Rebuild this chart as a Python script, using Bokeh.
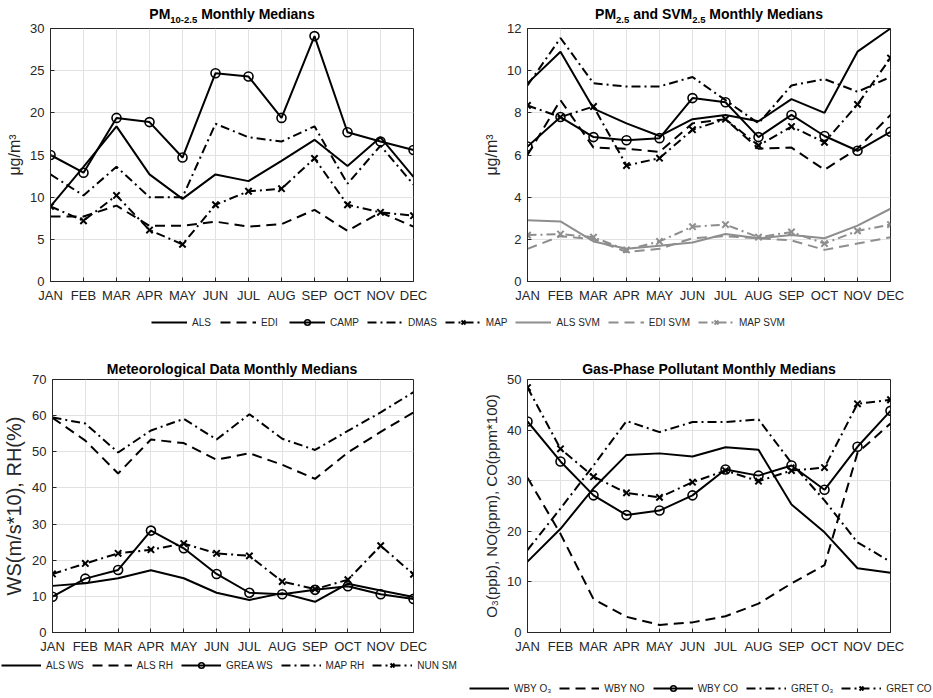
from bokeh.plotting import figure
from bokeh.models import Range1d, FixedTicker, Legend, LegendItem, ColumnDataSource, Label, GridBox
from bokeh.embed import file_html
from bokeh.resources import INLINE

MONTHS = ["JAN", "FEB", "MAR", "APR", "MAY", "JUN", "JUL", "AUG", "SEP", "OCT", "NOV", "DEC"]
MONTH_IDX = list(range(1, 13))

# PM10-2.5 monthly medians (ug/m3)
coarse_als = [8.9, 13.6, 18.4, 12.7, 9.8, 12.7, 11.9, 14.3, 16.8, 13.7, 17.1, 12.4]
coarse_edi = [7.7, 7.7, 9.0, 6.6, 6.6, 7.1, 6.5, 6.8, 8.5, 6.0, 8.2, 6.5]
coarse_camp = [15.0, 12.9, 19.4, 18.9, 14.7, 24.7, 24.3, 19.4, 29.1, 17.7, 16.6, 15.6]
coarse_dmas = [12.7, 10.2, 13.6, 10.0, 10.0, 18.7, 17.1, 16.6, 18.4, 11.6, 16.1, 11.5]
coarse_map = [8.9, 7.2, 10.2, 6.1, 4.4, 9.1, 10.7, 11.0, 14.6, 9.1, 8.2, 7.8]

# PM2.5 and SVM2.5 monthly medians (ug/m3)
fine_als = [9.4, 10.9, 8.2, 7.5, 6.9, 7.7, 7.9, 7.6, 8.65, 8.0, 10.9, 12.0]
fine_edi = [6.0, 8.6, 6.35, 6.3, 6.15, 7.5, 7.7, 6.3, 6.35, 5.3, 6.3, 7.9]
fine_camp = [6.4, 7.8, 6.85, 6.7, 6.8, 8.7, 8.5, 6.85, 7.9, 6.9, 6.2, 7.1]
fine_dmas = [9.3, 11.55, 9.4, 9.25, 9.25, 9.7, 8.6, 7.5, 9.3, 9.6, 9.0, 9.7]
fine_map = [8.35, 7.8, 8.3, 5.5, 5.85, 7.2, 7.7, 6.45, 7.35, 6.6, 8.4, 10.6]
svm_als = [2.9, 2.85, 1.9, 1.55, 1.7, 1.85, 2.25, 2.05, 2.2, 2.05, 2.65, 3.45]
svm_edi = [1.55, 2.15, 2.0, 1.4, 1.55, 2.05, 2.15, 2.05, 1.95, 1.5, 1.8, 2.1]
svm_map = [2.2, 2.25, 2.1, 1.5, 1.9, 2.6, 2.7, 2.1, 2.35, 1.8, 2.4, 2.7]

# Meteorological monthly medians
ws_als = [12.9, 13.6, 15.0, 17.2, 15.0, 11.0, 9.0, 10.9, 8.5, 13.5, 11.6, 9.8]
rh_als = [59.4, 53.1, 44.0, 53.4, 52.4, 47.8, 49.6, 46.4, 42.5, 49.8, 55.5, 60.9]
ws_grea = [9.9, 14.9, 17.3, 28.2, 23.3, 16.2, 11.0, 10.6, 11.8, 12.8, 10.6, 9.3]
rh_map = [59.5, 57.8, 49.8, 55.9, 59.1, 53.4, 60.4, 53.6, 50.5, 55.8, 60.9, 66.5]
sm_nun = [16.2, 19.1, 21.9, 22.9, 24.6, 21.9, 21.2, 14.1, 12.0, 14.6, 24.0, 16.1]

# Gas-phase pollutant monthly medians
o3_wby = [14.0, 20.5, 28.5, 35.1, 35.4, 34.8, 36.6, 36.1, 25.3, 19.8, 12.7, 11.8]
no_wby = [30.6, 19.5, 6.6, 3.1, 1.5, 2.0, 3.2, 5.7, 9.7, 13.3, 35.5, 41.3]
co_wby = [41.7, 33.8, 27.1, 23.2, 24.1, 27.1, 32.2, 31.0, 33.0, 28.2, 36.7, 43.8]
o3_gret = [16.3, 24.5, 33.0, 41.8, 39.6, 41.6, 41.6, 42.1, 33.5, 26.1, 17.8, 14.0]
co_gret = [48.4, 36.3, 30.8, 27.6, 26.7, 29.7, 32.0, 29.9, 32.0, 32.6, 45.2, 46.0]

FONT = "Liberation Sans"
AXIS_GREY = "#262626"
GRID_GREY = "#e2e2e2"
BLACK = "#000000"
SVM_GREY = "#8e8e8e"
SOLID, DASH, DASHDOT = "solid", "10 6", "9 4 2 4"
NAN = float("nan")

# advance widths (1/1000 em) of the bold sans face, used to lay out title pieces
BOLD_ADV = {"P": 667, "M": 833, "S": 667, "V": 667, "G": 778, "D": 722,
            "0": 556, "1": 556, "2": 556, "5": 556, "-": 333, ".": 278, " ": 278,
            "o": 611, "n": 611, "t": 333, "h": 611, "l": 278, "y": 556, "e": 556,
            "d": 611, "i": 278, "a": 556, "s": 556, "g": 611, "r": 389, "c": 556,
            "u": 611, "p": 611}


def text_width(s, size):
    return sum(BOLD_ADV.get(c, 600) for c in s) / 1000.0 * size


def make_panel(width, height, left, right, top, bottom, y_end, y_step, ylabel, ylabel_size):
    p = figure(width=width, height=height, x_range=Range1d(1, 12), y_range=Range1d(0, y_end),
               output_backend="svg", toolbar_location=None, title=None, frame_align=False,
               min_border_left=left, min_border_right=right,
               min_border_top=top, min_border_bottom=bottom)
    p.xaxis.ticker = FixedTicker(ticks=MONTH_IDX)
    p.xaxis.major_label_overrides = {m: name for m, name in zip(MONTH_IDX, MONTHS)}
    p.yaxis.ticker = FixedTicker(ticks=[v * y_step for v in range(int(y_end / y_step) + 1)])
    for ax in (p.xaxis[0], p.yaxis[0]):
        ax.major_label_text_font = FONT
        ax.major_label_text_font_size = "13px"
        ax.major_label_text_color = AXIS_GREY
        ax.axis_line_color = AXIS_GREY
        ax.major_tick_line_color = AXIS_GREY
        ax.major_tick_in = 4
        ax.major_tick_out = 0
        ax.minor_tick_line_color = None
        ax.major_label_standoff = 6
    p.yaxis.axis_label = ylabel
    p.yaxis.axis_label_text_font = FONT
    p.yaxis.axis_label_text_font_size = ylabel_size
    p.yaxis.axis_label_text_font_style = "normal"
    p.yaxis.axis_label_text_color = AXIS_GREY
    p.yaxis.axis_label_standoff = 4
    p.xgrid.grid_line_color = GRID_GREY
    p.ygrid.grid_line_color = GRID_GREY
    p.outline_line_color = AXIS_GREY
    p.outline_line_width = 1
    return p


def strip(width, height, transparent=False):
    s = figure(width=width, height=height, x_range=Range1d(0, width), y_range=Range1d(0, height),
               output_backend="svg", toolbar_location=None, title=None, frame_align=False,
               x_axis_location=None, y_axis_location=None, min_border=0,
               outline_line_color=None)
    s.grid.visible = False
    if transparent:
        s.background_fill_color = None
        s.border_fill_color = None
    return s


def add_title(s, pieces, center_x, baseline_y):
    """Lay out bold title pieces side by side; subscript pieces are smaller and lowered."""
    main, sub = 14, 9.5
    sizes = [sub if is_sub else main for _, is_sub in pieces]
    widths = [text_width(t, f) for (t, _), f in zip(pieces, sizes)]
    x = center_x - sum(widths) / 2.0
    for (t, is_sub), f, w in zip(pieces, sizes, widths):
        body = t.lstrip(" ")
        lead = text_width(t[:len(t) - len(body)], f)
        s.add_layout(Label(x=x + lead, y=baseline_y - (5.5 if is_sub else 0), text=body,
                           text_font=FONT, text_font_style="bold",
                           text_font_size=f"{f}px",
                           text_color="black", text_align="left",
                           text_baseline="alphabetic"))
        x += w


def draw_series(p, y, color, dash, marker=None):
    if y is None:
        # placeholder series that only feeds a legend entry
        src = ColumnDataSource(dict(x=[NAN], y=[NAN]))
    else:
        src = ColumnDataSource(dict(x=MONTH_IDX, y=y))
    rs = [p.line("x", "y", source=src, line_color=color, line_width=2, line_dash=dash)]
    if marker == "circle":
        rs.append(p.scatter("x", "y", source=src, marker="circle", size=9,
                            line_color=color, fill_color=None, line_width=1.6))
    elif marker == "x":
        rs.append(p.scatter("x", "y", source=src, marker="x", size=9,
                            line_color=color, line_width=2))
    return rs


def legend(items, glyph_w, loc):
    return Legend(items=items, orientation="horizontal", location=loc,
                  label_text_font=FONT, label_text_font_size="10px",
                  label_text_color=AXIS_GREY, glyph_width=glyph_w, glyph_height=14,
                  label_height=14, label_standoff=5, spacing=8, padding=0, margin=0,
                  border_line_color=None, background_fill_alpha=0)


# --- PM10-2.5 panel ---
p1 = make_panel(466, 308, 50, 53, 28, 27, 30, 5, "\u03bcg/m\u00b3", "16px")
draw_series(p1, coarse_als, BLACK, SOLID)
draw_series(p1, coarse_edi, BLACK, DASH)
draw_series(p1, coarse_camp, BLACK, SOLID, "circle")
draw_series(p1, coarse_dmas, BLACK, DASHDOT)
draw_series(p1, coarse_map, BLACK, DASHDOT, "x")
t1 = strip(466, 28, transparent=True)
add_title(t1, [("PM", False), ("10-2.5", True), (" Monthly Medians", False)], 231.5, 14.5)

# --- PM2.5 and SVM2.5 panel ---
p2 = make_panel(467, 308, 61, 43, 28, 27, 12, 2, "\u03bcg/m\u00b3", "16px")
draw_series(p2, fine_als, BLACK, SOLID)
draw_series(p2, fine_edi, BLACK, DASH)
draw_series(p2, fine_camp, BLACK, SOLID, "circle")
draw_series(p2, fine_dmas, BLACK, DASHDOT)
draw_series(p2, fine_map, BLACK, DASHDOT, "x")
draw_series(p2, svm_als, SVM_GREY, SOLID)
draw_series(p2, svm_edi, SVM_GREY, DASH)
draw_series(p2, svm_map, SVM_GREY, DASHDOT, "x")
t2 = strip(467, 28, transparent=True)
add_title(t2, [("PM", False), ("2.5", True), (" and SVM", False), ("2.5", True),
               (" Monthly Medians", False)], 242.5, 14.5)

# --- shared legend strip for the particulate panels ---
pl = strip(933, 30)
pm_items = [
    LegendItem(label="ALS", renderers=draw_series(pl, None, BLACK, SOLID)),
    LegendItem(label="EDI", renderers=draw_series(pl, None, BLACK, DASH)),
    LegendItem(label="CAMP", renderers=draw_series(pl, None, BLACK, SOLID, "circle")),
    LegendItem(label="DMAS", renderers=draw_series(pl, None, BLACK, DASHDOT)),
    LegendItem(label="MAP", renderers=draw_series(pl, None, BLACK, DASHDOT, "x")),
    LegendItem(label="ALS SVM", renderers=draw_series(pl, None, SVM_GREY, SOLID)),
    LegendItem(label="EDI SVM", renderers=draw_series(pl, None, SVM_GREY, DASH)),
    LegendItem(label="MAP SVM", renderers=draw_series(pl, None, SVM_GREY, DASHDOT, "x")),
]
pl.add_layout(legend(pm_items, 36, (151, 9)))

# --- Meteorological panel ---
p3 = make_panel(466, 318, 50, 53, 41, 24, 70, 10, "WS(m/s*10), RH(%)", "20px")
met_series = [
    ("ALS WS", ws_als, SOLID, None),
    ("ALS RH", rh_als, DASH, None),
    ("GREA WS", ws_grea, SOLID, "circle"),
    ("MAP RH", rh_map, DASHDOT, None),
    ("NUN SM", sm_nun, DASHDOT, "x"),
]
l3 = strip(466, 42)
met_items = []
for name, vals, dash, mk in met_series:
    draw_series(p3, vals, BLACK, dash, mk)
    met_items.append(LegendItem(label=name, renderers=draw_series(l3, None, BLACK, dash, mk)))
l3.add_layout(legend(met_items, 40, (1, 26)))
t3 = strip(466, 41, transparent=True)
add_title(t3, [("Meteorological Data Monthly Medians", False)], 231.5, 11)

# --- Gas-phase panel ---
p4 = make_panel(467, 318, 61, 43, 41, 24, 50, 10, "O\u2083(ppb), NO(ppm), CO(ppm*100)", "15px")
gas_series = [
    ("WBY O\u2083", o3_wby, SOLID, None),
    ("WBY NO", no_wby, DASH, None),
    ("WBY CO", co_wby, SOLID, "circle"),
    ("GRET O\u2083", o3_gret, DASHDOT, None),
    ("GRET CO", co_gret, DASHDOT, "x"),
]
l4 = strip(467, 42)
gas_items = []
for name, vals, dash, mk in gas_series:
    draw_series(p4, vals, BLACK, dash, mk)
    gas_items.append(LegendItem(label=name, renderers=draw_series(l4, None, BLACK, dash, mk)))
l4.add_layout(legend(gas_items, 40, (3, 3)))
t4 = strip(467, 41, transparent=True)
add_title(t4, [("Gas-Phase Pollutant Monthly Medians", False)], 242.5, 11)

# panels first, transparent title strips layered over their top margins
layout = GridBox(children=[
    (p1, 0, 0), (p2, 0, 1),
    (pl, 1, 0, 1, 2),
    (p3, 2, 0), (p4, 2, 1),
    (l3, 3, 0), (l4, 3, 1),
    (t1, 0, 0), (t2, 0, 1), (t3, 2, 0), (t4, 2, 1),
], spacing=0)

with open("out.html", "w") as f:
    f.write(file_html(layout, INLINE))
